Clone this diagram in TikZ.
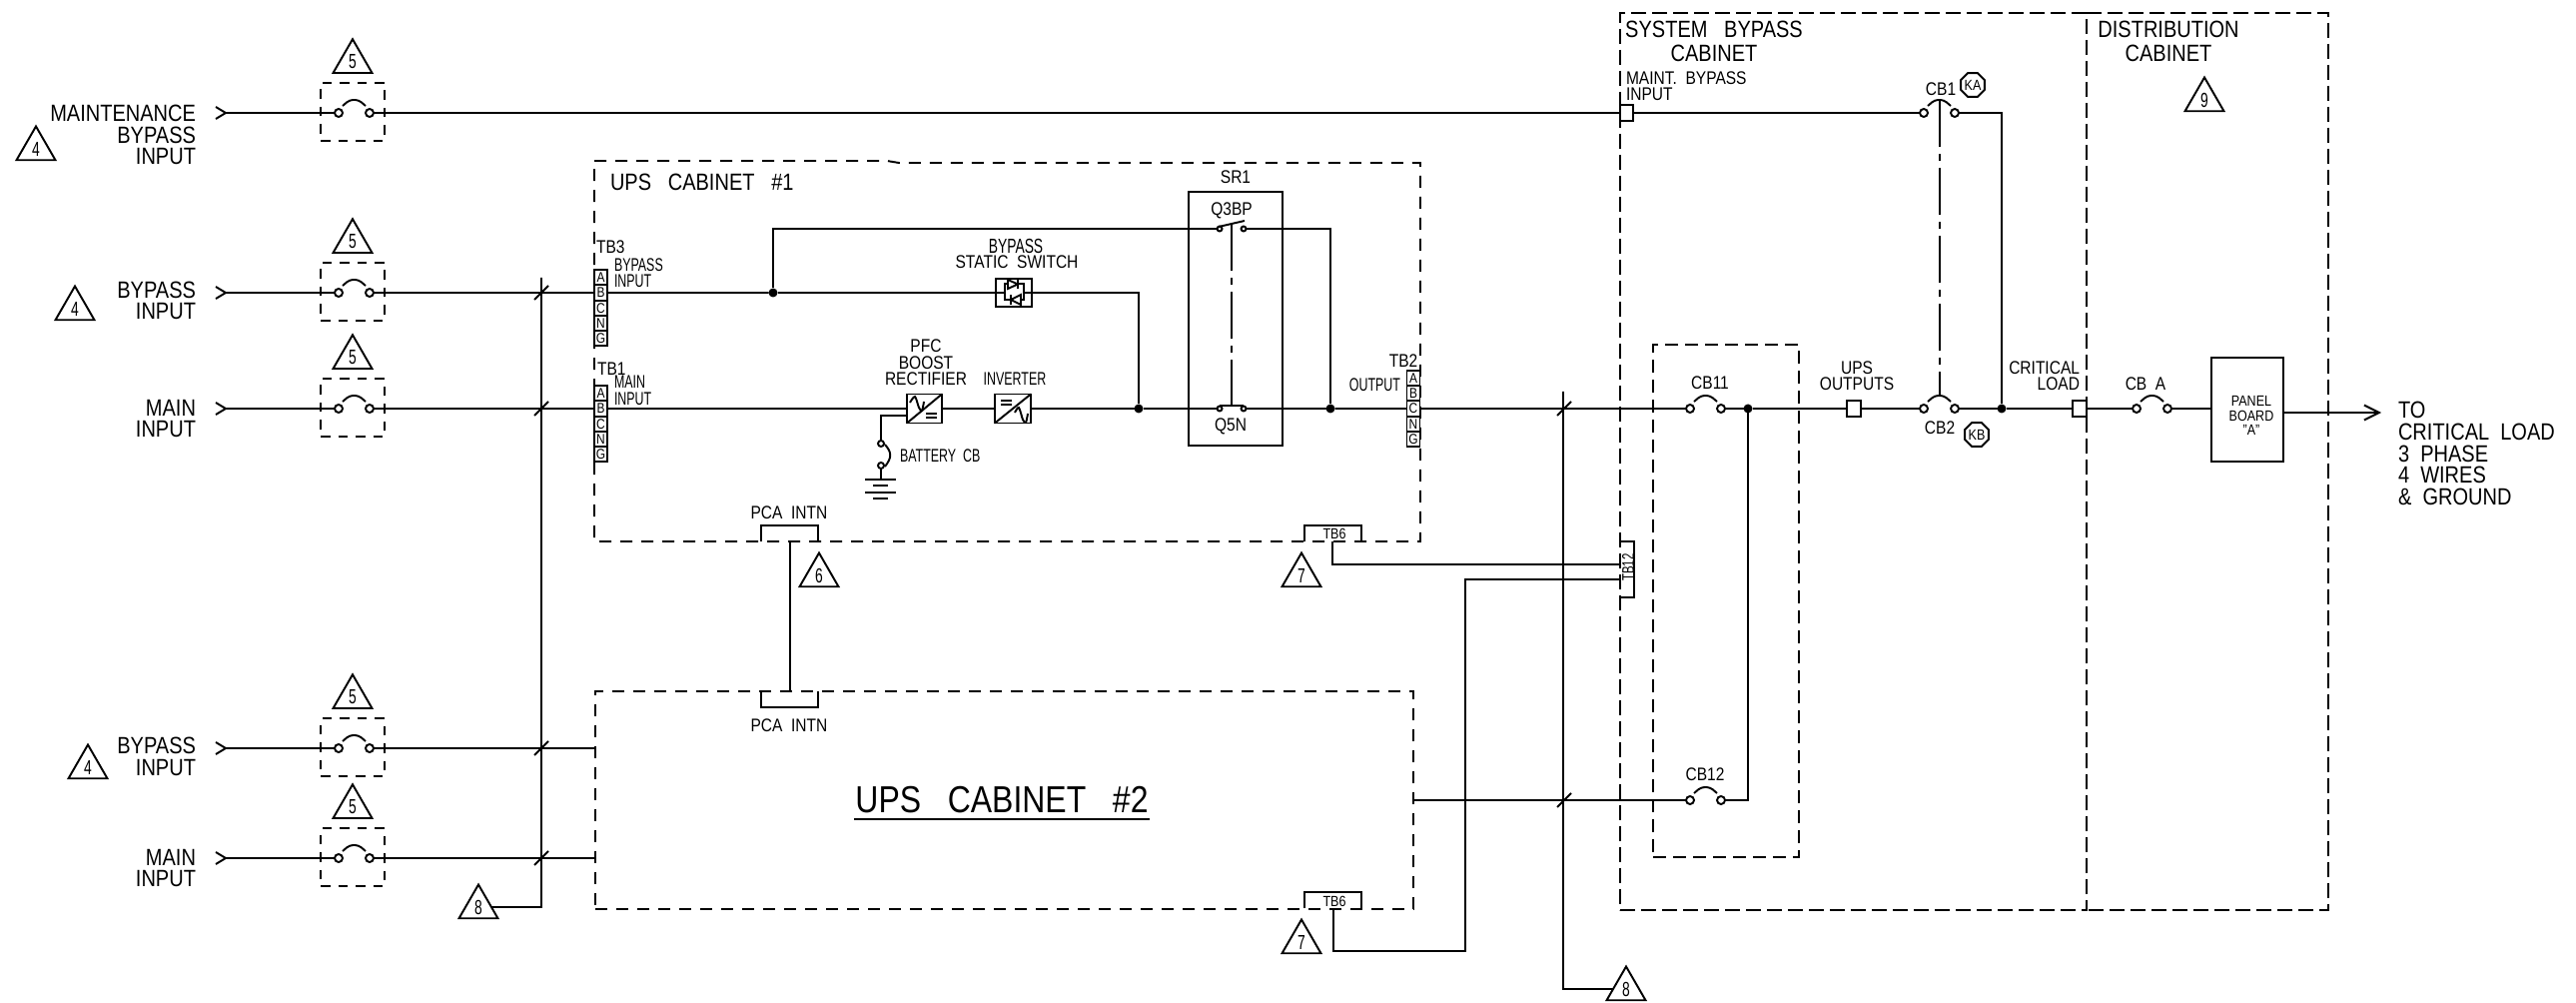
\documentclass[tikz,border=0pt]{standalone}
\usepackage{fontspec}
\setmainfont[FakeStretch=0.85]{Liberation Sans}
\newfontface\narrowfont[FakeStretch=0.68]{Liberation Sans}
\usetikzlibrary{arrows.meta,positioning,shapes.geometric}
\tikzset{big text/.style={font=\fontsize{6.7}{6.2}\selectfont,inner sep=0pt,outer sep=0pt},
         mid text/.style={font=\fontsize{5.2}{4.7}\selectfont,inner sep=0pt,outer sep=0pt},
         narrow text/.style={font=\narrowfont\fontsize{5.2}{4.7}\selectfont,inner sep=0pt,outer sep=0pt},
         small text/.style={font=\fontsize{4.2}{4.2}\selectfont,inner sep=0pt,outer sep=0pt},
         contact node/.style={circle,draw,fill=white,minimum size=0.8mm,inner sep=0pt,outer sep=0pt},
         tiny contact/.style={circle,draw,fill=white,minimum size=0.5mm,inner sep=0pt,outer sep=0pt},
         dot node/.style={circle,fill=black,minimum size=0.9mm,inner sep=0pt,outer sep=0pt},
         note node/.style={regular polygon,regular polygon sides=3,draw,minimum size=4.5mm,inner sep=0pt,outer sep=0pt,font=\narrowfont\fontsize{5.8}{5.8}\selectfont},
         relay node/.style={regular polygon,regular polygon sides=8,draw,minimum size=2.4mm,inner sep=0pt,outer sep=0pt,font=\fontsize{4.2}{4.2}\selectfont},
         term node/.style={draw,minimum width=1.35mm,minimum height=1.65mm,inner sep=0pt,outer sep=0pt},
         cell node/.style={draw,minimum width=1.3mm,minimum height=1.52mm,inner sep=0pt,outer sep=0pt,font=\fontsize{4}{4}\selectfont},
         box node/.style={draw,inner sep=0pt,outer sep=0pt},
         dash box/.style={draw,dash pattern=on .95mm off .8mm,minimum width=6.4mm,minimum height=5.8mm,inner sep=0pt,outer sep=0pt},
         cabinet node/.style={draw,dash pattern=on 1.2mm off .9mm,inner sep=0pt,outer sep=0pt},
         system node/.style={draw,dash pattern=on 1.5mm off .6mm,inner sep=0pt,outer sep=0pt},
         inner node/.style={draw,dash pattern=on 1.3mm off .7mm,inner sep=0pt,outer sep=0pt},
         dash line/.style={dash pattern=on 1.2mm off .9mm},
         link line/.style={dash pattern=on 4.7mm off .7mm on .7mm off .7mm},
            }
\newcommand{\cbreak}[3]{
    \node[contact node] (#1l) at (#2,#3) {};
    \node[contact node] (#1r) [right=2.3mm of #1l] {};
    \draw[rounded corners=1pt] ([shift={(4,-7)}]#1l.center) -- ++(7,-6) -- ++(9,0) -- ++(7,6);
}
\newcommand{\feeder}[2]{
    \coordinate (#1in) at (226,#2);
    \draw ([shift={(-10,-6)}]#1in) -- (#1in) -- ([shift={(-10,6)}]#1in);
    \node[dash box] (#1box) at (353,#2-1) {};
    \node[note node] (#1note) [above=1mm of #1box] {5};
    \cbreak{#1}{339}{#2}
    \path[draw] (#1in) edge (#1l);
}
\newcommand{\termblock}[3]{
    \node[cell node] (#1a) at (#2,#3) {A};
    \node[cell node] (#1b) [below=0pt of #1a] {B};
    \node[cell node] (#1c) [below=0pt of #1b] {C};
    \node[cell node] (#1n) [below=0pt of #1c] {N};
    \node[cell node] (#1g) [below=0pt of #1n] {G};
}
\newcommand{\tickmark}[2]{
    \draw ([shift={(7,-7)}]#1,#2) -- ([shift={(-7,7)}]#1,#2);
}

\begin{document}
\begin{tikzpicture}[x=0.1mm,y=-0.1mm,line width=0.55pt,>={Straight Barb[length=1.5mm,width=1.5mm]}]
    \useasboundingbox (0,0) rectangle (2579,1004);

    \feeder{MB}{113}
    \feeder{BY}{293}
    \feeder{MN}{409}
    \feeder{BZ}{749}
    \feeder{MO}{859}

    \node[big text,align=right,anchor=east] (MBt) at (196,135) {MAINTENANCE\\BYPASS\\INPUT};
    \node[big text,align=right,anchor=east] (BYt) at (196,301) {BYPASS\\INPUT};
    \node[big text,align=right,anchor=east] (MNt) at (196,419) {MAIN\\INPUT};
    \node[big text,align=right,anchor=east] (BZt) at (196,757) {BYPASS\\INPUT};
    \node[big text,align=right,anchor=east] (MOt) at (196,869) {MAIN\\INPUT};
    \node[note node] (N4a) at (36,149) {4};
    \node[note node] (N4b) at (75,309) {4};
    \node[note node] (N4c) at (88,768) {4};

    % cabinets
    \draw[dash line] (595,161) -- (888,161) -- (900,163) -- (1422,163) -- (1422,542) -- (595,542) -- cycle;
    \node[cabinet node,minimum width=81.9mm,minimum height=21.8mm] (UPB) at (1005.5,801) {};
    \node[system node,minimum width=46.7mm,minimum height=89.8mm] (SYS) at (1855.5,462) {};
    \node[inner node,minimum width=14.6mm,minimum height=51.3mm] (CBX) at (1728,601.5) {};
    \draw[dash pattern=on 1.5mm off .6mm] (SYS.north east) -- ++(242,0) -- ++(0,898) -- ++(-242,0);
    \node[big text,anchor=west] (UPAt) at (611,182) {UPS\ \ \ CABINET\ \ \ \#1};
    \node[font=\fontsize{10.7}{11}\selectfont,inner sep=0pt] (UPBt) at (1003,801) {UPS\ \ \ CABINET\ \ \ \#2};
    \draw ([yshift=-0.5mm]UPBt.south west) -- ([yshift=-0.5mm]UPBt.south east);
    \node[big text,align=center,font=\fontsize{6.7}{6.8}\selectfont] (SYSt) at (1716,41) {SYSTEM\ \ \ BYPASS\\CABINET};
    \node[big text,align=center,font=\fontsize{6.7}{6.8}\selectfont] (DSTt) at (2171,41) {DISTRIBUTION\\CABINET};
    \node[mid text,align=left,anchor=west] (MBIt) at (1628,86) {MAINT.\ \ BYPASS\\INPUT};
    \node[note node] (N9) at (2207,100) {9};

    % terminal blocks
    \termblock{TA}{601.5}{277.8}
    \termblock{TC}{601.5}{393.8}
    \termblock{TB}{1415}{378.6}
    \node[mid text,anchor=west] (TAt) at (597,247) {TB3};
    \node[mid text,anchor=west] (TCt) at (598,369) {TB1};
    \node[mid text] (TBt) at (1405,361) {TB2};
    \node[narrow text,align=left,anchor=west] (TAi) at (615,273) {BYPASS\\INPUT};
    \node[narrow text,align=left,anchor=west] (TCi) at (615,391) {MAIN\\INPUT};
    \node[narrow text,anchor=east] (TBo) at (1402,385) {OUTPUT};

    % junctions
    \node[dot node] (J1) at (774,293) {};
    \node[dot node] (J2) at (1140,409) {};
    \node[dot node] (J4) at (1332,409) {};
    \node[dot node] (J3) at (1750,409) {};
    \node[dot node] (J5) at (2004,409) {};

    % bypass switch
    \node[box node,minimum width=3.6mm,minimum height=2.8mm] (SSW) at (1015,293) {};
    \draw (SSW.west) -- (1006,293) (SSW.east) -- (1025,293) (1006,284) rectangle (1025,300);
    \draw[fill=white] (1009,280) -- (1009,289) -- (1019,284.5) -- cycle;
    \draw[fill=white] (1022,295) -- (1022,305) -- (1012,300) -- cycle;
    \draw (1019,279) -- (1019,289) (1012,295) -- (1012,305);
    \node[narrow text,font=\narrowfont\fontsize{5.8}{5}\selectfont] (SSWa) at (1017,246) {BYPASS};
    \node[mid text] (SSWb) at (1018,262) {STATIC\ \ SWITCH};

    % converters
    \node[box node,minimum width=3.5mm,minimum height=2.9mm] (REC) at (925.5,409) {};
    \draw (REC.south west) -- (REC.north east);
    \draw plot[smooth] coordinates {(911,403) (916,397) (920,408) (923,411) (925,402)};
    \draw (927,414) -- (938,414) (927,418) -- (938,418);
    \node[box node,minimum width=3.6mm,minimum height=2.9mm] (INV) at (1014,409) {};
    \draw (INV.south west) -- (INV.north east);
    \draw (1002,401) -- (1013,401) (1002,405) -- (1013,405);
    \draw plot[smooth] coordinates {(1016,413) (1020,408) (1024,420) (1027,423) (1029,414)};
    \node[mid text,align=center] (RECt) at (927,363) {PFC\\BOOST\\RECTIFIER};
    \node[narrow text] (INVt) at (1016,379) {INVERTER};

    % battery
    \coordinate (RB) at (908,416);
    \node[tiny contact,minimum size=0.6mm] (BTa) at (882,444) {};
    \node[tiny contact,minimum size=0.6mm] (BTb) at (882,466) {};
    \coordinate (G1) at (882,480);
    \draw (RB) -| (BTa);
    \path[draw] (BTb) edge (G1);
    \draw (886,445) .. controls (893,453) and (893,458) .. (886,467);
    \draw (866,480) -- (897,480) (874,486) -- (889,486) (866,493) -- (897,493) (874,499) -- (889,499);
    \node[narrow text,anchor=west] (BTt) at (901,456) {BATTERY\ \ CB};

    % SR1
    \node[box node,minimum width=9.4mm,minimum height=25.4mm] (SR1) at (1237,319) {};
    \node[mid text] (SR1t) [above=0.8mm of SR1] {SR1};
    \node[tiny contact] (Q3l) at (1221,229) {};
    \node[tiny contact] (Q3r) at (1245,229) {};
    \node[tiny contact] (Q5l) at (1221,409) {};
    \node[tiny contact] (Q5r) at (1245,409) {};
    \draw (1220,227) -- (1246,221);
    \draw (1221,406) -- (1245,406);
    \coordinate (L3) at (1233,224);
    \coordinate (L5) at (1233,406);
    \draw[link line] (L3) -- (L5);
    \node[mid text] (Q3t) at (1233,211) {Q3BP};
    \node[mid text] (Q5t) at (1232,427) {Q5N};

    % notches
    \draw (762,542) |- (819,526) -- (819,542);
    \draw (762,692) |- (819,708) -- (819,692);
    \draw (1306,542) |- (1363,526) -- (1363,542);
    \draw (1306,909) |- (1363,893) -- (1363,909);
    \coordinate (PA) at (791,542);
    \coordinate (PB) at (791,692);
    \coordinate (TS1) at (1334,542);
    \coordinate (TS2) at (1335,909);
    \node[mid text] (PAt) at (790,513) {PCA\ \ INTN};
    \node[mid text] (PBt) at (790,726) {PCA\ \ INTN};
    \node[small text] (TS1t) at (1336,534) {TB6};
    \node[small text] (TS2t) at (1336,902) {TB6};
    \node[note node] (N6) at (820,576) {6};
    \node[note node] (N7a) at (1303,576) {7};
    \node[note node] (N7b) at (1303,943) {7};

    % TB12
    \draw (1622,542) -| (1636,598) -- (1622,598);
    \coordinate (T1) at (1622,565);
    \coordinate (T2) at (1622,580);
    \node[font=\narrowfont\fontsize{4.8}{4.8}\selectfont,inner sep=0pt,rotate=90] (T12t) at (1630,568) {TB12};

    % breakers
    \node[term node] (MBT) at (1628.5,113) {};
    \node[term node] (UOT) at (1856,409) {};
    \node[term node] (CLT) at (2082,409) {};
    \cbreak{CB1}{1926}{113}
    \cbreak{CB2}{1926}{409}
    \cbreak{CB11}{1692}{409}
    \cbreak{CB12}{1692}{801}
    \cbreak{CBA}{2139}{409}
    \coordinate (L1) at (1942,100);
    \coordinate (L2) at (1942,397);
    \draw[link line] (L1) -- (L2);
    \node[mid text] (CB1t) at (1943,89) {CB1};
    \node[mid text] (CB2t) at (1942,428) {CB2};
    \node[mid text] (CB11t) at (1712,383) {CB11};
    \node[mid text] (CB12t) at (1707,775) {CB12};
    \node[mid text] (CBAt) at (2148,384) {CB\ \ A};
    \node[relay node] (KA) at (1975,85) {KA};
    \node[relay node] (KB) at (1979,435) {KB};
    \node[mid text,align=center] (UOTt) at (1859,376) {UPS\\OUTPUTS};
    \node[mid text,align=right,anchor=east] (CLTt) at (2082,376) {CRITICAL\\LOAD};

    % panel
    \node[box node,minimum width=7.2mm,minimum height=10.4mm] (PNL) at (2250,410) {};
    \node[small text,align=center] (PNLt) at (2254,416) {PANEL\\BOARD\\"A"};
    \coordinate (OUT) at (2384,413);
    \draw[->] (PNL.east |- OUT) -- (OUT);
    \node[big text,align=left,anchor=west] (OUTt) at (2401,454) {TO\\CRITICAL\ \ LOAD\\3\ \ PHASE\\4\ \ WIRES\\\&\ \ GROUND};

    % buses
    \coordinate (B1a) at (542,278);
    \coordinate (B1b) at (542,908);
    \coordinate (B2a) at (1565,392);
    \coordinate (B2b) at (1565,990);
    \node[note node] (N8a) at (479,908) {8};
    \node[note node] (N8b) at (1628,990) {8};
    \draw (B1a) -- (B1b) -- (N8a);
    \draw (B2a) -- (B2b) -- (N8b);
    \tickmark{542}{293}
    \tickmark{542}{409}
    \tickmark{542}{749}
    \tickmark{542}{859}
    \tickmark{1566}{409}
    \tickmark{1566}{801}

    \path[draw]
    (MBr) edge node {} (MBT)
    (MBT) edge node {} (CB1l)
    (BYr) edge node {} (TAb)
    (TAb) edge node {} (J1)
    (J1) edge node {} (SSW)
    (MNr) edge node {} (TCb)
    (TCb) edge node {} (REC)
    (REC) edge node {} (INV)
    (INV) edge node {} (J2)
    (J2) edge node {} (Q5l)
    (Q5r) edge node {} (J4)
    (J4) edge node {} (TBc)
    (TBc) edge node {} (CB11l)
    (CB11r) edge node {} (J3)
    (J3) edge node {} (UOT)
    (UOT) edge node {} (CB2l)
    (CB2r) edge node {} (J5)
    (J5) edge node {} (CLT)
    (CLT) edge node {} (CBAl)
    (PA) edge node {} (PB);
    \draw (CBAr) -- (CBAr -| PNL.west);
    \draw (J1) |- (Q3l);
    \draw (Q3r) -| (J4);
    \draw (SSW) -| (J2);
    \draw (CB1r) -| (J5);
    \draw (J3) |- (CB12r);
    \draw (BZr) -- (BZr -| UPB.west);
    \draw (MOr) -- (MOr -| UPB.west);
    \draw (UPB.east |- CB12l) -- (CB12l);
    \draw (TS1) |- (T1);
    \draw (TS2) |- (1467,952) |- (T2);
  \end{tikzpicture}
\end{document}
